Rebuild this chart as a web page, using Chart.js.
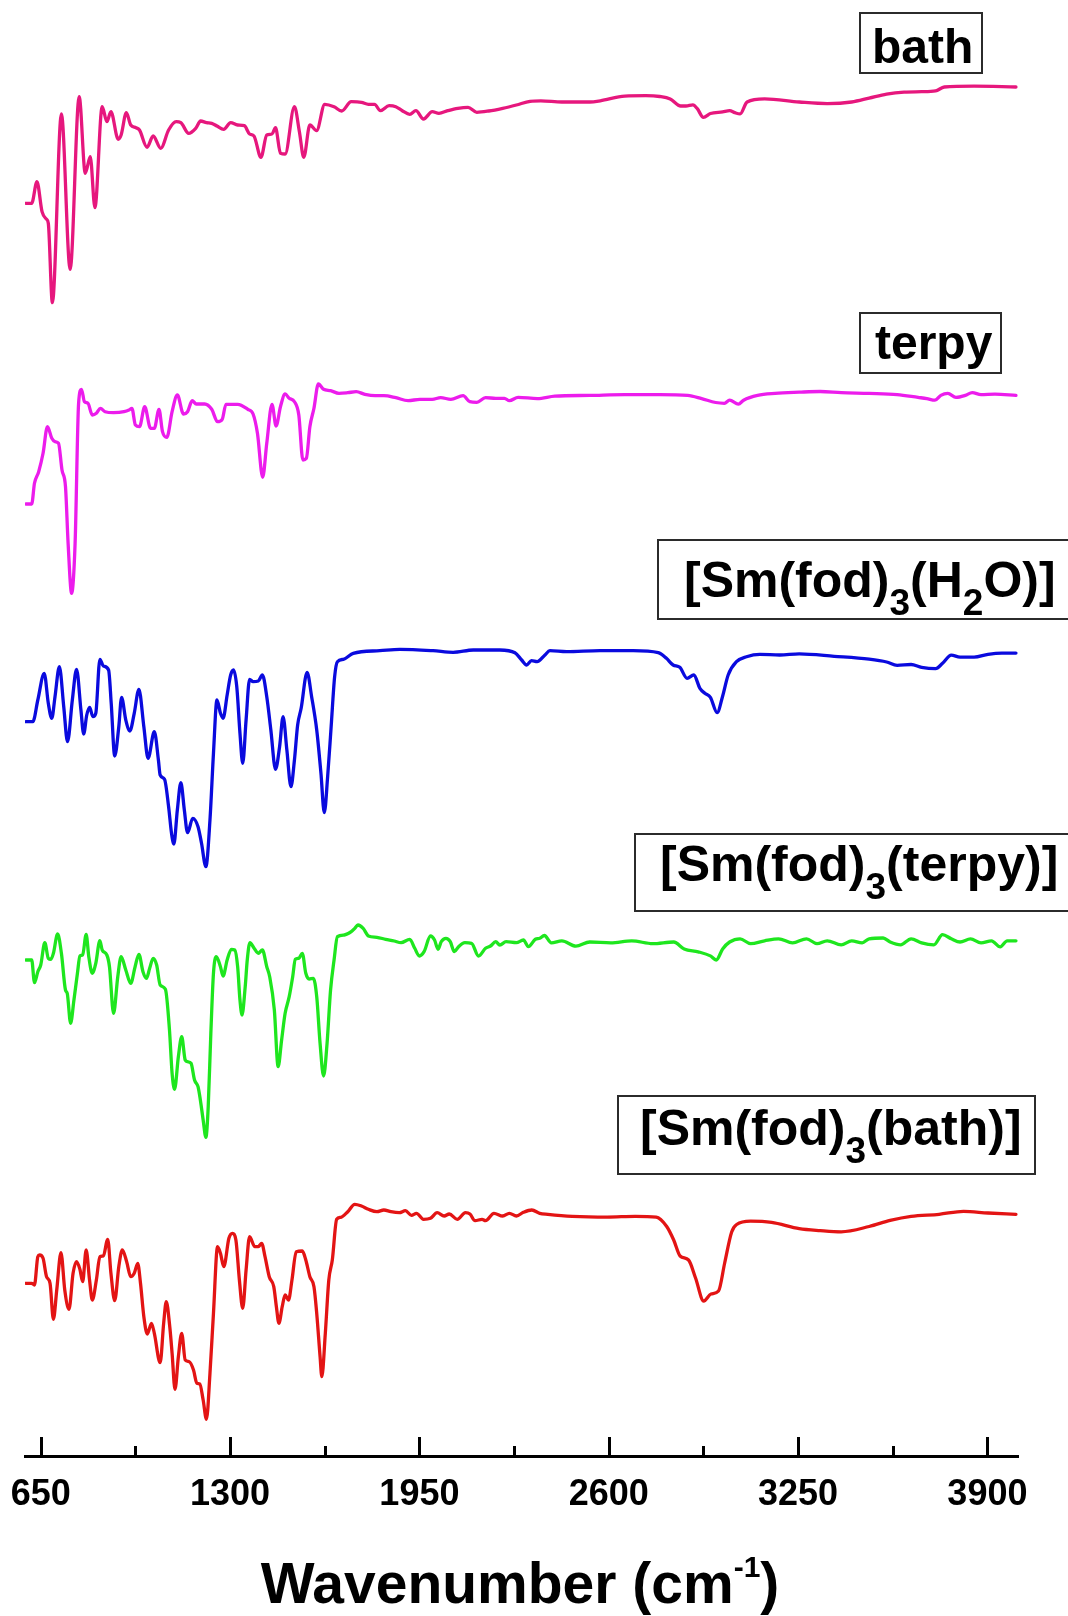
<!DOCTYPE html>
<html>
<head>
<meta charset="utf-8">
<script src="https://cdn.jsdelivr.net/npm/chart.js@4.4.1/dist/chart.umd.min.js"></script>
<style>
html,body{margin:0;padding:0;background:#fff;overflow:hidden;}
#wrap{position:relative;width:1068px;height:1616px;overflow:hidden;background:#fff;}
#c{position:absolute;left:0;top:0;}
.box{position:absolute;border:2px solid #2b2b2b;box-sizing:border-box;}
.txt{position:absolute;font-family:'Liberation Sans',Arial,sans-serif;font-weight:bold;white-space:nowrap;color:#000;}
.sub{font-size:37px;position:relative;top:18px;}
.sup{font-size:30px;position:relative;top:-26px;}
</style>
</head>
<body>
<div id="wrap">
<canvas id="c" width="1068" height="1616"></canvas>

<div class="box" style="left:859px;top:12px;width:124px;height:62px"></div>
<div class="txt" style="left:872px;top:22.7px;font-size:48px;line-height:48px">bath</div>

<div class="box" style="left:859px;top:311.6px;width:143px;height:62px"></div>
<div class="txt" style="left:875px;top:319.2px;font-size:48px;line-height:48px">terpy</div>

<div class="box" style="left:657px;top:538.6px;width:430px;height:81px"></div>
<div class="txt" style="left:684px;top:554.7px;font-size:50px;line-height:50px">[Sm(fod)<span class="sub">3</span>(H<span class="sub">2</span>O)]</div>

<div class="box" style="left:634px;top:832.7px;width:440px;height:79.5px"></div>
<div class="txt" style="left:660px;top:839.3px;font-size:50px;line-height:50px">[Sm(fod)<span class="sub">3</span>(terpy)]</div>

<div class="box" style="left:617px;top:1095px;width:419px;height:80px"></div>
<div class="txt" style="left:640px;top:1103.4px;font-size:50px;line-height:50px">[Sm(fod)<span class="sub">3</span>(bath)]</div>

<div class="txt" style="left:0;width:1040px;text-align:center;top:1554.75px;font-size:57px;line-height:57px">Wavenumber (cm<span class="sup">-1</span>)</div>
</div>

<script>
// ---- Data (wavenumber in cm-1, stacked transmittance in arbitrary units) ----
const majorTicks = [650, 1300, 1950, 2600, 3250, 3900];
const minorTicks = [975, 1625, 2275, 2925, 3575];
const seriesNames = ['bath', 'terpy', '[Sm(fod)3(H2O)]', '[Sm(fod)3(terpy)]', '[Sm(fod)3(bath)]'];
const seriesColors = ['#E6177D', '#EC1CEC', '#0A0ADE', '#1EE61E', '#E31414'];

const bath = [[599,1252.7],[619,1252.7],[637,1274.3],[654.5,1244.3],[670,1236.7],[676,1232.7],[690,1153.3],[721,1342],[751,1186.7],[782,1359.3],[803,1282.7],[820,1299.3],[836,1248.3],[861,1349.3],[877,1334.3],[891,1344.3],[916,1316.7],[926,1321],[944,1343.3],[959,1331],[977,1328.3],[989,1326],[1015,1308.7],[1036,1320],[1062,1307.7],[1089,1326],[1115,1334.3],[1131,1333.3],[1158,1322.7],[1182,1327.7],[1199,1335],[1219,1333.3],[1237,1332.7],[1255,1330],[1278,1326.7],[1302,1333.3],[1326,1331],[1349,1330.3],[1367,1322],[1382,1320],[1406,1298.7],[1426,1321],[1444,1322],[1456,1328.3],[1473,1302.7],[1489,1302],[1521,1349.3],[1538,1324.3],[1553,1298.7],[1574,1331],[1597,1325.3],[1625,1351.7],[1657,1349.3],[1683,1345],[1716,1354.3],[1751,1353.7],[1775,1351.7],[1796,1351.7],[1816,1345.3],[1846,1350.3],[1869,1349.3],[1891,1345.3],[1917,1341.7],[1938,1345.3],[1964,1337],[1994,1344.3],[2017,1342.7],[2047,1345.3],[2082,1347.7],[2117,1348.7],[2147,1343.7],[2188,1345],[2236,1347.7],[2283,1351],[2330,1354.7],[2367,1355.2],[2439,1354],[2535,1354],[2571,1355.2],[2655,1359.9],[2727,1360.3],[2775,1359.5],[2811,1357.1],[2847,1350],[2865,1350],[2889,1351.2],[2904,1347.3],[2925,1338.6],[2949,1342.5],[2991,1344.1],[3015,1345.3],[3033,1343.3],[3051,1342.1],[3075,1354],[3135,1357.1],[3254,1354],[3350,1352.4],[3434,1354],[3494,1357.9],[3554,1361.9],[3614,1363.9],[3674,1364.3],[3722,1365.1],[3752,1369],[3854,1369.8],[3998,1369]];

const terpy = [[599,952],[619,952],[628.5,972.7],[643,984.3],[658,1002.7],[673,1029.3],[688,1017.7],[699,1014.3],[711,1012.7],[723,986],[735,969.3],[744,912.7],[756,862.7],[768,912.7],[780,1052.7],[790,1066.7],[800,1054.3],[812,1052.7],[827,1041],[841,1042.7],[855,1047.7],[871,1044.3],[900,1043.3],[936,1044.3],[953,1046],[963,1047.7],[975,1031],[989,1029.3],[1007,1049.3],[1027,1027.7],[1040,1027.7],[1056,1046.7],[1068,1024.3],[1083,1018.7],[1101,1044.3],[1119,1061],[1140,1042],[1154,1044.3],[1170,1055.3],[1184,1052],[1213,1052],[1237,1046.7],[1257,1034.3],[1273,1036.7],[1286,1051.7],[1326,1051.7],[1361,1046.7],[1379,1042],[1394,1022.7],[1412,978.7],[1426,1012.7],[1444,1051.7],[1458,1030],[1473,1049.3],[1489,1062],[1503,1057.7],[1521,1054.3],[1536,1041],[1550,996],[1562,997.7],[1574,1029.3],[1588,1047.7],[1603,1072],[1621,1066.7],[1645,1065.3],[1674,1062.7],[1704,1063.3],[1733,1064.3],[1763,1061.7],[1798,1060.3],[1828,1060.3],[1869,1058.3],[1911,1055.3],[1952,1056.7],[1994,1056.7],[2023,1058.3],[2058,1056.7],[2100,1060.3],[2123,1054.3],[2147,1053.7],[2177,1058.3],[2212,1057.7],[2242,1057.7],[2259,1055.3],[2289,1058.7],[2355,1057.4],[2415,1059.8],[2535,1060.6],[2655,1061.4],[2775,1061.4],[2871,1060.6],[2919,1057.4],[2967,1053.5],[2997,1052.7],[3015,1055.8],[3045,1051.9],[3063,1055.8],[3111,1060.6],[3171,1062.6],[3254,1063.8],[3326,1064.5],[3398,1063.4],[3494,1062.6],[3590,1061.4],[3662,1058.6],[3692,1057.4],[3720,1055.8],[3740,1060.6],[3764,1062.6],[3792,1058.6],[3824,1060.6],[3848,1063.4],[3878,1061.4],[3926,1061.8],[3998,1060.6]];

const smH2O = [[599,734.3],[623,734.3],[640,756],[662,782.7],[676,752.7],[688,737.7],[699,759.3],[714,789.3],[729,749.3],[742,714.3],[758.5,756],[773,786.7],[788,746],[797.5,722],[808,741],[818,748.7],[829,739.3],[839,742.7],[853,796.7],[865,790],[883,786],[892,752.7],[904,700],[918,729.3],[927.5,758.7],[942,736],[956,725],[971,742.7],[987,766.7],[1004,729.3],[1018.5,697.7],[1040,724.3],[1054,696],[1060,681],[1075,676.7],[1089,649.3],[1099,622.7],[1107,612],[1119,646],[1131,673.3],[1143,646],[1154,623.3],[1172,637.7],[1190,629.3],[1202,612.7],[1217,589.3],[1231,636],[1243,702.7],[1255,756],[1267,742.7],[1276,737.7],[1290,761],[1302,781],[1312,786],[1323,769.3],[1334,722.7],[1343.5,692.7],[1355,736],[1367,776.7],[1379,774.3],[1397,775],[1411,781],[1426,759.3],[1440,726],[1456,686.7],[1470,709.3],[1482,739.3],[1495,706],[1509,669.3],[1521,696],[1532,731],[1544,747.7],[1564.5,783.7],[1580,759.3],[1597.5,726],[1612,682.7],[1623.5,643.3],[1635,679.3],[1647,729.3],[1659,779.3],[1668.5,794.3],[1689,796.7],[1723,802.7],[1814,805.3],[1883,806.7],[1997,805.3],[2066,803.7],[2135,806],[2226,806],[2278,803.3],[2301,796],[2318,791],[2335,795.3],[2354,794.3],[2381,801],[2398,805.3],[2455,804.3],[2570,805.3],[2684,805.3],[2770,803.3],[2798,797.7],[2821,791],[2844,788.7],[2869,777.7],[2892,781],[2913,767.7],[2930,762.7],[2949,758.7],[2972,743.3],[2990.5,759.3],[3010,781],[3038.5,794.3],[3073,799.3],[3119,801.7],[3187,801],[3254,802.1],[3374,799.7],[3494,796.8],[3554,794],[3590,790.7],[3638,791.5],[3674,788.7],[3722,787.4],[3746,792.7],[3776,800.9],[3806,798.9],[3854,798.9],[3902,801.7],[3950,802.9],[3998,802.9]];

const smTerpy = [[599,496],[619,496],[628.5,473.3],[640,484.3],[650,491],[664,513.3],[676,497.7],[685,496.7],[693.5,502.7],[708,522],[721,502.7],[735,466],[741,462.7],[752.6,432.7],[764,456],[776,482.7],[784.5,500],[794,501],[806,521.7],[815,499.3],[827,482.7],[839,492.7],[853,515.3],[861,506],[877,501],[886,489.3],[900,442.7],[914.5,479.3],[926,499.3],[942,486],[959,472.7],[974,489.3],[987,501.7],[1001,484.3],[1013,477.7],[1024,487.7],[1036,497.7],[1048,491],[1060,471],[1078,466.7],[1092,426],[1101,382.7],[1109.5,366.7],[1122.5,399.3],[1134,419.3],[1146,396],[1154,394.3],[1166,392.7],[1178,376],[1190,369.3],[1198,356],[1207.6,336],[1217,318.7],[1225,349.3],[1234,422.7],[1243,482.7],[1252.5,499.3],[1267,489.3],[1276,480],[1290,496],[1304.5,506.7],[1316,506],[1326,489.3],[1334,456],[1341,441],[1352,469.3],[1359,496],[1368,513.3],[1382.5,507.7],[1397,502.7],[1411,506],[1426,489.3],[1436,479.3],[1452,446],[1465,389.3],[1477,416],[1489,442.7],[1503,459.3],[1515,479.3],[1524,496.7],[1536,497.7],[1548,502.7],[1560,482.7],[1571.5,477],[1586,477.7],[1597.5,459.3],[1609,412.7],[1621,380],[1633,412.7],[1645,466],[1657,496],[1668.5,519.3],[1692,521],[1716,524.3],[1728,527.7],[1739,531],[1757,527.7],[1775,520],[1804,518.7],[1834,516.7],[1863.5,515],[1887,513.3],[1917,516.7],[1934,507.7],[1950,500],[1966,504.3],[1988,520],[2002,516],[2014,506.7],[2025,514.3],[2041,517.7],[2056,514.3],[2070,504.3],[2084.5,509.3],[2106,513.3],[2129,512.7],[2153,500],[2177,507.7],[2194,510],[2212,514.3],[2226,511],[2247.5,514.3],[2283,513.3],[2307,516],[2324,509.3],[2348,516.7],[2363,517.7],[2379,520.5],[2403,513.1],[2439,515.2],[2487,509.9],[2535,514],[2607,513.1],[2679,515.2],[2751,512.3],[2823,514],[2859,507],[2907,504.2],[2949,500.1],[2969,496],[2991,507],[3015,514],[3051,517.2],[3087,512.3],[3135,515.2],[3183,517.2],[3231,513.1],[3279,517.2],[3315,512.3],[3350,515.2],[3398,511.1],[3434,515.2],[3470,513.1],[3494,517.2],[3542,518],[3566,514],[3602,511.1],[3638,517.2],[3674,513.1],[3716,511.1],[3746,521.3],[3776,517.2],[3806,514],[3842,517.2],[3878,513.1],[3914,515.2],[3944,509.1],[3968,515.2],[3998,515.2]];

const smBath = [[599,172.7],[619,172.7],[628.5,171],[640,199.3],[646,201],[658,197.7],[670,179.3],[682,172.7],[693.5,136.7],[705,166],[719.5,203.3],[732.5,166],[747,146.7],[761,182.7],[773,194.3],[784.5,186.7],[794,174.3],[806,206],[817.6,176],[827,156],[841,176],[853,199.3],[865,200],[880,216.7],[891,182.7],[904,155.3],[918,189.3],[930,206],[945,194.3],[959,179.3],[971,182.7],[983,192.7],[992.5,172.7],[1004,139.3],[1016,122],[1030,132.7],[1040,122.7],[1060,93.3],[1072,132.7],[1081,154.3],[1093,129.3],[1101,102.7],[1111,66.7],[1122.5,99.3],[1134,122.7],[1146,96],[1160,94.3],[1174.5,86],[1186,72.7],[1196,72],[1207.6,56],[1219,36.7],[1231,82.7],[1243,142.7],[1257,209.3],[1267,202.7],[1278.5,189.3],[1296,217.7],[1308,222.7],[1320,216],[1332,176],[1343.5,147.7],[1355,186],[1367,219.3],[1385,209.3],[1397,209.3],[1408.5,212.7],[1420,199.3],[1434.5,179.3],[1450,169.3],[1459,149.3],[1467.6,132.7],[1479,149.3],[1489,161],[1500.6,156],[1512.5,176],[1527,204.3],[1548,205],[1560,196],[1574,179.3],[1588,169.3],[1597.5,142.7],[1609,99.3],[1615,79.3],[1627,122.7],[1639,176],[1651,196],[1666,236.7],[1680,238.7],[1704,244.3],[1728,251.7],[1751,250],[1775,246.7],[1804,244.3],[1828,246],[1852,244.3],[1881,243.3],[1902,245.3],[1922.5,240.7],[1940,242.7],[1964,236.7],[1988,237.7],[2011,243.3],[2035,240],[2052.5,242],[2080,236.7],[2108,243.3],[2123.5,242],[2141,235.3],[2165,236.7],[2177,235.3],[2206,242.7],[2236,240],[2259,242.7],[2283,240],[2307,243.7],[2336,246],[2363,242.7],[2391,241.7],[2475,239.7],[2595,238.9],[2691,239.7],[2763,238.9],[2799,229.5],[2823,216],[2845,200],[2874,196],[2898,178],[2926,155],[2951,162],[2977,165],[2998,193],[3022,224],[3039,231.5],[3087,234.8],[3159,233.6],[3254,227.4],[3326,225.4],[3398,224.2],[3494,229.5],[3566,235.6],[3638,239.7],[3734,241.7],[3818,244.6],[3902,243],[3998,241.7]];

const allSeries = [bath, terpy, smH2O, smTerpy, smBath];

// ---- Chart ----
const inwardTicks = {
  id: 'inwardTicks',
  afterDraw(chart) {
    const xs = chart.scales.x;
    const ctx = chart.ctx;
    const y0 = xs.top;
    ctx.save();
    ctx.strokeStyle = '#000';
    ctx.lineWidth = 3;
    ctx.lineCap = 'butt';
    majorTicks.forEach(v => {
      const px = Math.round(xs.getPixelForValue(v)) + 0.5;
      ctx.beginPath(); ctx.moveTo(px, y0 + 1); ctx.lineTo(px, y0 - 19); ctx.stroke();
    });
    minorTicks.forEach(v => {
      const px = Math.round(xs.getPixelForValue(v)) + 0.5;
      ctx.beginPath(); ctx.moveTo(px, y0 + 1); ctx.lineTo(px, y0 - 10); ctx.stroke();
    });
    ctx.restore();
  }
};

new Chart(document.getElementById('c'), {
  type: 'line',
  data: {
    datasets: allSeries.map((s, i) => ({
      label: seriesNames[i],
      data: s.map(p => ({ x: p[0], y: p[1] })),
      borderColor: seriesColors[i],
      backgroundColor: seriesColors[i],
      borderWidth: 3.3,
      pointRadius: 0,
      fill: false,
      cubicInterpolationMode: 'monotone',
      borderJoinStyle: 'round',
      borderCapStyle: 'round'
    }))
  },
  options: {
    responsive: false,
    animation: false,
    devicePixelRatio: 1,
    layout: { padding: { left: 25, right: 50, top: 0, bottom: 0 } },
    plugins: { legend: { display: false }, tooltip: { enabled: false } },
    scales: {
      x: {
        type: 'linear',
        min: 596,
        max: 4005,
        afterBuildTicks: s => { s.ticks = majorTicks.map(v => ({ value: v })); },
        afterFit: s => { s.height = 160; s.paddingLeft = 0; s.paddingRight = 0; },
        grid: { display: true, drawOnChartArea: false, drawTicks: false, color: 'rgba(0,0,0,0)' },
        border: { display: true, color: '#000', width: 3 },
        ticks: {
          autoSkip: false,
          maxRotation: 0,
          padding: 17,
          color: '#000',
          font: { family: "'Liberation Sans', Arial, sans-serif", size: 36, weight: 'bold' },
          callback: v => String(v)
        }
      },
      y: { display: false, min: 0, max: 1456 }
    }
  },
  plugins: [inwardTicks]
});
</script>
</body>
</html>
